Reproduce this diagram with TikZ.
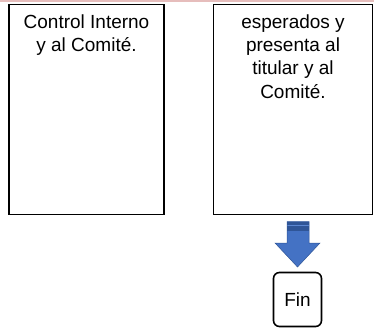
\documentclass[tikz,border=0pt]{standalone}
\usepackage{fontspec}
\setmainfont{Liberation Sans}
\definecolor{pinkband}{HTML}{E6BDBC}
\definecolor{arrowblue}{HTML}{4472C4}
\definecolor{arrowdark}{HTML}{2F5597}
\definecolor{arrowlight}{HTML}{5B86D1}
\tikzset{
  procbox/.style={draw=black, line width=1.3pt, rectangle, inner sep=0pt},
  boxtext/.style={font=\fontsize{19}{23.3}\selectfont, align=center, inner sep=0pt, anchor=north},
  endbox/.style={draw=black, line width=1.6pt, rounded corners=6pt, inner sep=0pt},
}
\begin{document}
\begin{tikzpicture}[x=1pt,y=-1pt]
\useasboundingbox (0,0) rectangle (374,329);
\fill[pinkband] (0,0) rectangle (374,1.6);
% boxes
\node[procbox, minimum width=155pt, minimum height=210pt] (b1) at (86.5,109.5) {};
\node[procbox, minimum width=159pt, minimum height=210pt] (b2) at (293,109.5) {};
\node[boxtext] (t1) at (86.5,14.3) {Control Interno\\y al Comité.};
\node[boxtext] (t2) at (293,14.3) {esperados y\\presenta al\\titular y al\\Comité.};
% end node
\node[endbox, minimum width=48pt, minimum height=54pt, font=\fontsize{19}{23}\selectfont] (fin) at (297.5,299.5) {Fin};
% block arrow
\coordinate (atop) at (298,221.5);
\coordinate (atip) at (297.5,267);
\fill[arrowblue] (287,221.5) -- (309,221.5) -- (309,243) -- (320,243) -- (atip) -- (275,243) -- (287,243) -- cycle;
\fill[arrowdark] (287,221.5) rectangle (309,231);
\draw[arrowlight, line width=0.8pt] (287,225.5) -- (309,225.5);
\draw[arrowdark, line width=0.5pt] (287,221.5) -- (309,221.5) -- (309,243) -- (320,243) -- (atip) -- (275,243) -- (287,243) -- cycle;
\end{tikzpicture}
\end{document}
